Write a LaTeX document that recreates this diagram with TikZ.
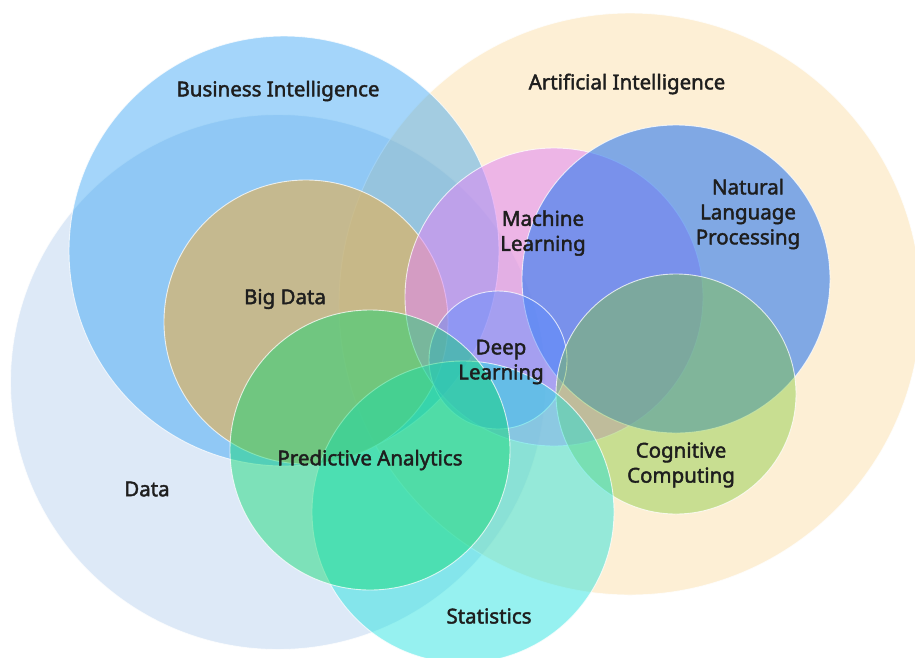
\documentclass[tikz,border=0pt]{standalone}
\usepackage{fontspec}
\newfontfamily\labfont{Noto Sans}[FakeBold=2]
\definecolor{cData}{RGB}{120,170,225}
\definecolor{cAI}{RGB}{250,215,150}
\definecolor{cBI}{RGB}{35,155,243}
\definecolor{cBD}{RGB}{220,180,100}
\definecolor{cML}{RGB}{224,134,245}
\definecolor{cNLP}{RGB}{45,121,239}
\definecolor{cDL}{RGB}{90,140,255}
\definecolor{cCC}{RGB}{129,200,52}
\definecolor{cPA}{RGB}{10,216,110}
\definecolor{cST}{RGB}{24,226,222}
\definecolor{txt}{RGB}{30,30,30}
\tikzset{
  venn/.style={fill=#1, draw=white, draw opacity=0.75, line width=0.9pt},
  lab/.style={text=txt, font=\labfont\fontsize{20.5}{25}\selectfont, align=center, inner sep=0pt}
}
\begin{document}
\begin{tikzpicture}[x=1pt,y=-1pt]
\clip (0,0) rectangle (915,657);
\fill[white] (0,0) rectangle (915,657);
\path[venn=cData, fill opacity=0.25] (278,382) circle (267.5pt);
\path[venn=cAI, fill opacity=0.4] (630,304) circle (291pt);
\path[venn=cBI, fill opacity=0.41] (284,251) circle (215pt);
\path[venn=cBD, fill opacity=0.7] (306,322) circle (142pt);
\path[venn=cML, fill opacity=0.55] (554,297) circle (149pt);
\path[venn=cNLP, fill opacity=0.6] (676,279) circle (154pt);
\path[venn=cDL, fill opacity=0.45] (498,360) circle (69pt);
\path[venn=cCC, fill opacity=0.42] (676,394) circle (120pt);
\path[venn=cST, fill opacity=0.45] (463,512) circle (151pt);
\path[venn=cPA, fill opacity=0.45] (370,450) circle (140pt);
\node[lab] (bi) at (278,91) {Business Intelligence};
\node[lab] (ai) at (627,84) {Artificial Intelligence};
\node[lab] (bd) at (285,299) {Big Data};
\node[lab] (ml) at (543,233) {Machine\\Learning};
\node[lab] (nlp) at (748,214) {Natural\\Language\\Processing};
\node[lab] (dl) at (501,362) {Deep\\Learning};
\node[lab] (cc) at (681,465) {Cognitive\\Computing};
\node[lab] (pa) at (370,460) {Predictive Analytics};
\node[lab] (data) at (147,489) {Data};
\node[lab] (st) at (489,616) {Statistics};
\end{tikzpicture}
\end{document}
